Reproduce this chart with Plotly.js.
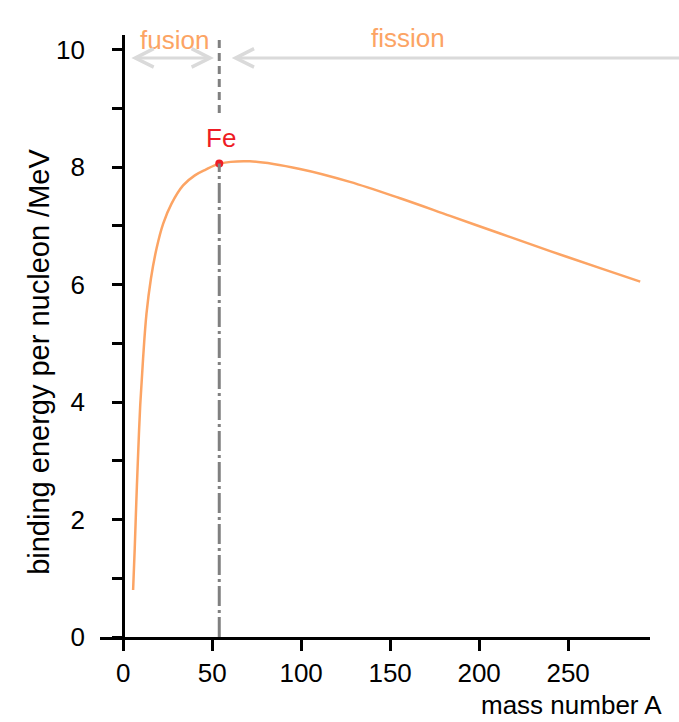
<!DOCTYPE html>
<html>
<head>
<meta charset="utf-8">
<script src="https://cdn.plot.ly/plotly-3.0.1.min.js"></script>
<style>html,body{margin:0;padding:0;background:#fff;}#chart{width:679px;height:722px;}</style>
</head>
<body>
<div id="chart"></div>
<script>
// Data
const massNumber = [5.6, 6.5, 7.4, 8.4, 9.6, 11.2, 13.1, 15.6, 18.8, 22.5, 27.2, 33.7, 40.3, 45.9, 54.3, 71.2, 99.3, 127.4, 155.6, 183.7, 211.8, 239.9, 268.0, 290.5];
const bindingEnergy = [0.80, 1.50, 2.30, 3.10, 3.95, 4.74, 5.50, 6.10, 6.62, 7.04, 7.38, 7.69, 7.86, 7.95, 8.06, 8.10, 7.97, 7.75, 7.47, 7.17, 6.87, 6.57, 6.28, 6.05];
const feLabel = "Fe";
const feA = [54];
const feBE = [8.06];
const xTickVals = [0, 50, 100, 150, 200, 250];
const yTickVals = [0, 2, 4, 6, 8, 10];
const regionLabels = ["fusion", "fission"];
const xTitle = "mass number A";
const yTitle = "binding energy per nucleon /MeV";

const xRange = [-13, 296];
const yRange = [0, 10.25];
const font = "Liberation Sans, Arial, sans-serif";
const orange = "#fca464";
const red = "#ee1c25";
const arrowGray = "#dadada";
const lineGray = "#808080";

const traces = [
  {x: massNumber, y: bindingEnergy, mode: "lines", type: "scatter",
   line: {color: orange, width: 2.5, shape: "spline", smoothing: 1},
   hoverinfo: "skip", cliponaxis: false},
  {x: feA, y: feBE, mode: "markers", type: "scatter",
   marker: {color: red, size: 8}, cliponaxis: false, hoverinfo: "skip"}
];

const yAxisPos = (0 - xRange[0]) / (xRange[1] - xRange[0]);

const layout = {
  width: 679, height: 722,
  margin: {l: 100, r: 29, t: 35, b: 85},
  paper_bgcolor: "#fff", plot_bgcolor: "#fff",
  showlegend: false,
  font: {family: font, size: 26, color: "#000"},
  xaxis: {
    range: xRange, showgrid: false, zeroline: false,
    showline: true, linecolor: "#000", linewidth: 3,
    tickvals: xTickVals, ticktext: xTickVals.map(String),
    ticks: "outside", ticklen: 11, tickwidth: 3, tickcolor: "#000",
    tickfont: {family: font, size: 26, color: "#000"}
  },
  yaxis: {
    range: yRange, showgrid: false, zeroline: false,
    anchor: "free", position: yAxisPos,
    showline: true, linecolor: "#000", linewidth: 3,
    tickvals: yTickVals, ticktext: yTickVals.map(String),
    ticks: "outside", ticklen: 10, tickwidth: 3, tickcolor: "#000",
    ticklabelstandoff: 22,
    minor: {dtick: 1, ticks: "outside", ticklen: 10, tickwidth: 3, tickcolor: "#000"},
    tickfont: {family: font, size: 26, color: "#000"}
  },
  shapes: [
    {type: "line", xref: "x", yref: "y", x0: feA[0], x1: feA[0], y0: 8.92, y1: yRange[1],
     line: {color: lineGray, width: 3, dash: "8px,5px"}},
    {type: "line", xref: "x", yref: "y", x0: feA[0], x1: feA[0], y0: 0, y1: feBE[0],
     line: {color: lineGray, width: 3, dash: "20px,4px,3px,4px"}}
  ],
  annotations: [
    {x: 29, y: 10.16, xref: "x", yref: "y", text: regionLabels[0], showarrow: false,
     font: {family: font, size: 26, color: orange}},
    {x: 160, y: 10.2, xref: "x", yref: "y", text: regionLabels[1], showarrow: false,
     font: {family: font, size: 26, color: orange}},
    {x: 51, y: 9.86, ax: 3.8, ay: 9.86, xref: "x", yref: "y", axref: "x", ayref: "y",
     text: "", showarrow: true, arrowhead: 5, startarrowhead: 5, arrowside: "end+start",
     arrowsize: 1.2, startarrowsize: 1.2, arrowwidth: 3, arrowcolor: arrowGray, standoff: 0, startstandoff: 0},
    {x: 61, y: 9.86, ax: 330, ay: 9.86, xref: "x", yref: "y", axref: "x", ayref: "y",
     text: "", showarrow: true, arrowhead: 5, arrowsize: 1.2, arrowwidth: 3,
     arrowcolor: arrowGray, standoff: 0},
    {x: 55, y: 8.49, xref: "x", yref: "y", text: feLabel, showarrow: false,
     font: {family: font, size: 26, color: red}},
    {x: 1.026, y: -0.113, xref: "paper", yref: "paper", xanchor: "right", yanchor: "middle",
     text: xTitle, showarrow: false, font: {family: font, size: 26, color: "#000"}},
    {x: -0.111, y: 0.457, xref: "paper", yref: "paper", xanchor: "center", yanchor: "middle",
     textangle: -90, text: yTitle, showarrow: false, font: {family: font, size: 29, color: "#000"}}
  ]
};

Plotly.newPlot("chart", traces, layout, {staticPlot: true, displayModeBar: false});
</script>
</body>
</html>
